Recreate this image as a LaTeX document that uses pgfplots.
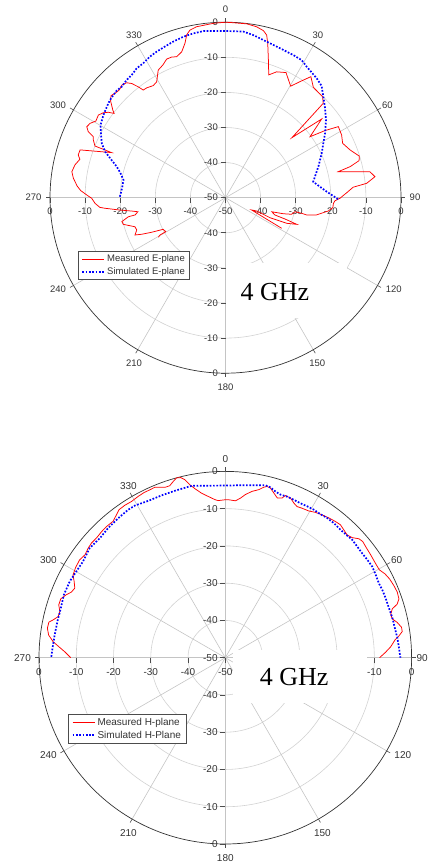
\documentclass[border=0pt]{standalone}
\usepackage{fontspec}
\setmainfont{Liberation Sans}
\newfontfamily\timesfont{Liberation Serif}
\usepackage{pgfplots}
\usepackage{pgfplotstable}
\pgfplotsset{compat=1.18}

\definecolor{circc}{HTML}{D2D2D2}
\definecolor{spokec}{HTML}{C4C4C4}
\definecolor{labc}{HTML}{333333}

\tikzset{
  circ/.style={draw=circc, line width=0.6pt},
  spoke/.style={draw=spokec, line width=0.6pt},
  outc/.style={draw=black!80, line width=0.7pt},
  tk/.style={draw=black!70, line width=0.6pt},
  lb/.style={text=labc, inner sep=0pt},
}

\pgfplotstableread{
ang db
239.5 -27.8
240.3 -28.5
240.4 -30.4
243.1 -30.1
244.9 -26.8
246.4 -24.0
247.6 -22.1
250.0 -23.1
252.2 -22.9
255.4 -19.9
257.0 -19.7
258.9 -21.8
259.2 -23.8
260.9 -24.7
261.9 -23.0
263.5 -19.3
265.0 -15.5
265.6 -14.1
267.5 -12.8
269.7 -11.9
271.1 -10.5
272.8 -8.7
274.5 -7.6
277.3 -6.3
279.6 -5.6
282.3 -6.1
284.8 -7.1
286.2 -6.3
288.2 -6.4
291.6 -15.1
291.6 -10.0
293.6 -8.9
294.8 -8.5
295.7 -6.6
297.1 -5.6
298.8 -6.0
300.6 -7.1
303.0 -6.8
304.8 -7.6
306.1 -8.7
307.1 -10.2
307.9 -9.3
310.1 -7.2
311.7 -6.3
313.4 -6.7
315.4 -6.9
317.4 -6.4
319.3 -6.8
320.6 -7.9
321.8 -9.8
322.6 -11.4
324.4 -11.5
327.2 -12.0
329.3 -11.6
332.2 -8.9
334.7 -8.2
337.0 -7.1
339.1 -7.1
340.9 -7.5
343.3 -6.6
345.3 -4.5
346.6 -2.3
348.0 -1.2
350.4 -0.6
356.0 -0.2
0.0 0.0
2.6 -0.1
7.0 -0.1
10.3 -0.5
12.8 -1.2
14.2 -2.2
15.3 -4.4
17.3 -8.9
19.4 -12.9
22.1 -11.3
25.8 -10.4
30.3 -13.2
32.7 -10.7
35.2 -7.8
38.5 -9.8
43.9 -10.1
46.0 -11.3
47.9 -24.5
50.7 -14.6
54.2 -20.3
56.0 -15.8
57.8 -12.0
61.6 -12.4
65.1 -13.2
69.0 -12.0
72.7 -10.1
74.5 -10.5
76.0 -13.4
77.0 -17.0
79.8 -8.2
82.0 -7.0
84.2 -9.6
85.3 -13.5
87.6 -15.4
90.3 -17.4
91.6 -18.8
93.0 -19.2
95.3 -19.3
97.4 -20.5
100.7 -23.6
102.0 -26.4
101.6 -27.8
101.4 -29.8
104.1 -30.6
105.5 -32.9
106.9 -36.2
109.3 -35.1
109.7 -32.0
110.5 -28.3
112.7 -31.1
114.2 -36.1
113.1 -40.3
115.2 -41.8
118.6 -31.8
}\measE

\pgfplotstableread{
ang db
270.5 -19.9
275.2 -20.4
279.8 -20.5
283.1 -19.3
285.9 -17.8
288.3 -15.8
290.9 -13.3
293.7 -11.5
296.7 -10.3
300.2 -8.8
304.1 -8.0
307.5 -7.4
310.2 -6.9
312.5 -6.7
314.5 -6.5
316.9 -6.7
320.0 -6.2
322.6 -6.0
325.5 -5.3
328.5 -5.1
331.8 -4.4
334.8 -4.0
338.2 -3.6
341.5 -3.1
345.3 -2.6
348.9 -2.3
352.7 -2.1
0.0 -2.5
6.1 -2.4
9.7 -3.0
13.5 -3.8
17.4 -4.4
21.4 -4.8
25.4 -5.0
29.0 -5.2
31.8 -6.1
34.6 -6.7
37.4 -7.2
40.7 -8.0
44.0 -9.9
47.5 -11.6
52.3 -13.8
57.1 -16.2
60.9 -18.1
65.2 -19.8
71.5 -22.1
79.7 -24.6
83.4 -22.9
86.6 -21.1
89.1 -19.3
90.8 -17.9
}\simE

\pgfplotstableread{
ang db
270.0 -8.5
272.1 -6.9
273.8 -5.2
275.3 -3.6
277.3 -2.2
279.4 -1.6
281.4 -1.7
282.4 -2.7
283.8 -3.8
285.6 -3.9
287.6 -3.1
289.7 -3.1
291.6 -4.1
293.1 -5.1
294.8 -5.5
296.7 -4.6
298.5 -3.5
301.0 -3.1
303.9 -2.9
306.2 -3.3
308.6 -2.9
310.6 -2.7
312.9 -2.8
315.6 -2.6
317.8 -2.5
320.5 -2.6
322.7 -1.8
324.3 -1.1
326.6 -1.0
329.0 -1.1
331.6 -0.8
333.9 -0.6
335.8 -0.6
337.5 -0.5
340.5 -1.5
342.1 -1.5
343.5 -0.7
344.8 0.0
346.1 -0.2
347.2 -1.0
348.4 -2.6
349.8 -3.9
351.8 -5.4
354.0 -6.5
356.3 -7.5
357.4 -7.8
0.0 -7.6
1.2 -7.6
3.7 -7.8
5.4 -7.0
7.0 -5.9
9.1 -4.8
11.3 -4.0
12.7 -3.1
13.7 -2.7
14.9 -2.9
16.4 -3.9
18.0 -4.9
19.6 -4.5
20.3 -3.6
22.2 -3.7
23.9 -4.6
25.4 -5.1
27.2 -4.9
29.6 -4.7
31.8 -4.1
34.1 -3.7
36.6 -3.3
38.9 -3.0
40.9 -2.8
42.8 -3.2
44.8 -3.6
46.6 -3.1
48.3 -2.0
49.8 -1.7
52.0 -2.0
54.7 -2.2
57.8 -2.4
60.3 -2.4
62.3 -1.6
64.4 -1.1
66.8 -0.8
69.1 -0.6
71.3 -0.8
72.7 -1.7
73.7 -3.3
75.3 -4.1
76.9 -4.0
78.4 -2.9
80.2 -2.0
81.6 -2.0
82.8 -3.0
84.0 -4.2
86.2 -5.5
88.1 -7.0
90.0 -8.6
}\measH

\pgfplotstableread{
ang db
270.3 -3.3
273.7 -3.6
277.6 -3.8
282.1 -3.9
286.7 -3.9
291.3 -3.5
296.1 -3.5
300.1 -3.8
304.0 -3.9
309.0 -3.2
313.6 -3.5
317.9 -3.1
322.5 -2.8
326.7 -2.5
329.3 -2.5
333.8 -3.1
338.6 -3.2
343.2 -3.2
347.2 -3.1
348.9 -3.0
354.3 -3.6
0.0 -3.8
5.5 -3.5
13.1 -2.5
14.8 -2.7
16.8 -3.4
18.7 -3.8
21.0 -3.7
23.4 -3.8
25.9 -3.9
28.4 -3.8
30.9 -3.7
33.5 -3.8
36.1 -3.6
38.9 -3.6
42.0 -3.8
44.9 -3.7
47.1 -3.5
49.9 -3.7
52.6 -3.8
55.4 -3.7
58.2 -3.6
61.1 -3.9
64.1 -4.2
66.6 -4.1
69.6 -4.1
73.2 -4.1
76.7 -3.9
80.2 -3.8
83.6 -3.5
86.9 -3.3
90.0 -3.0
}\simH

% #1 = label font, #2 = horizontal shift of the "90" label
\newcommand{\polarframe}[2]{%
  \pgfplotsinvokeforeach{10,20,30,40}{\draw[circ] (axis cs:0,0) circle[radius=##1];}
  \pgfplotsinvokeforeach{0,30,...,330}{\draw[spoke] (axis cs:0,0) -- (axis cs:{50*sin(##1)},{50*cos(##1)});}
  \draw[outc] (axis cs:0,0) circle[radius=50];
  \pgfplotsinvokeforeach{0,30,...,330}{\draw[tk] (axis cs:{50*sin(##1)},{50*cos(##1)}) -- ++({90-##1}:4pt);}
  \pgfplotsinvokeforeach{-50,-40,...,50}{\draw[tk] (axis cs:0,##1) -- ++(-5pt,0pt);}
  \pgfplotsinvokeforeach{-50,-40,...,50}{\draw[tk] (axis cs:##1,0) -- ++(0pt,-5pt);}
  % angle labels
  \node[lb,font={#1},yshift=12.5pt] at (axis cs:0,50) {0};
  \node[lb,font={#1},xshift=4.7pt,yshift=10.7pt] at (axis cs:25,43.30) {30};
  \node[lb,font={#1},xshift=10pt,yshift=4.7pt] at (axis cs:43.30,25) {60};
  \node[lb,font={#1},xshift=#2] at (axis cs:50,0) {90};
  \node[lb,font={#1},xshift=16.2pt,yshift=-3.8pt] at (axis cs:43.30,-25) {120};
  \node[lb,font={#1},xshift=4pt,yshift=-13.6pt] at (axis cs:25,-43.30) {150};
  \node[lb,font={#1},yshift=-14.5pt] at (axis cs:0,-50) {180};
  \node[lb,font={#1},xshift=-3.75pt,yshift=-13.6pt] at (axis cs:-25,-43.30) {210};
  \node[lb,font={#1},xshift=-15.5pt,yshift=-3.8pt] at (axis cs:-43.30,-25) {240};
  \node[lb,font={#1},xshift=-16.5pt] at (axis cs:-50,0) {270};
  \node[lb,font={#1},xshift=-15.5pt,yshift=4.7pt] at (axis cs:-43.30,25) {300};
  \node[lb,font={#1},xshift=-3.7pt,yshift=10.7pt] at (axis cs:-25,43.30) {330};
  % radial labels, vertical
  \node[lb,font={#1},anchor=east,xshift=-7.5pt] at (axis cs:0,50) {0};
  \node[lb,font={#1},anchor=east,xshift=-7.5pt] at (axis cs:0,40) {-10};
  \node[lb,font={#1},anchor=east,xshift=-7.5pt] at (axis cs:0,30) {-20};
  \node[lb,font={#1},anchor=east,xshift=-7.5pt] at (axis cs:0,20) {-30};
  \node[lb,font={#1},anchor=east,xshift=-7.5pt] at (axis cs:0,10) {-40};
  \node[lb,font={#1},anchor=east,xshift=-7.5pt] at (axis cs:0,0) {-50};
  \node[lb,font={#1},anchor=east,xshift=-7.5pt] at (axis cs:0,-10) {-40};
  \node[lb,font={#1},anchor=east,xshift=-7.5pt] at (axis cs:0,-20) {-30};
  \node[lb,font={#1},anchor=east,xshift=-7.5pt] at (axis cs:0,-30) {-20};
  \node[lb,font={#1},anchor=east,xshift=-7.5pt] at (axis cs:0,-40) {-10};
  \node[lb,font={#1},anchor=east,xshift=-7.5pt] at (axis cs:0,-50) {0};
  % radial labels, horizontal (outer ones)
  \node[lb,font={#1},yshift=-14pt] at (axis cs:-50,0) {0};
  \node[lb,font={#1},yshift=-14pt] at (axis cs:-40,0) {-10};
  \node[lb,font={#1},yshift=-14pt] at (axis cs:-30,0) {-20};
  \node[lb,font={#1},yshift=-14pt] at (axis cs:-20,0) {-30};
  \node[lb,font={#1},yshift=-14pt] at (axis cs:-10,0) {-40};
  \node[lb,font={#1},yshift=-14pt] at (axis cs:0,0) {-50};
  \node[lb,font={#1},yshift=-14pt] at (axis cs:40,0) {-10};
  \node[lb,font={#1},yshift=-14pt] at (axis cs:50,0) {0};
}

\pgfplotsset{
  polarbase/.style={
    scale only axis, anchor=center, hide axis, clip=false,
    xmin=-50, xmax=50, ymin=-50, ymax=50,
    legend cell align=left,
    legend image code/.code={\draw[##1] (0pt,0pt) -- (22pt,0pt);},
  },
  meas/.style={draw=red, line width=0.75pt, mark=none},
  simu/.style={draw=blue, line width=1.7pt, dash pattern=on 1.7pt off 1.6pt, mark=none},
}

\begin{document}
\begin{tikzpicture}
\useasboundingbox (0,0) rectangle (429pt,865pt);

\begin{axis}[polarbase,
  at={(225.5pt,667.3pt)}, width=351pt, height=351pt,
  legend style={at={(0.08,0.349)}, anchor=north west, draw=black!70, line width=0.8pt,
    fill=white, font=\fontsize{9.5}{11}\selectfont, text=labc,
    inner xsep=3pt, inner ysep=2pt, row sep=0pt},
]
\polarframe{\fontsize{9.5}{11}\selectfont}{14pt}
\node[lb,font=\fontsize{9.5}{11}\selectfont,yshift=-14pt] at (axis cs:10,0) {-40};
\node[lb,font=\fontsize{9.5}{11}\selectfont,yshift=-14pt] at (axis cs:20,0) {-30};
\node[lb,font=\fontsize{9.5}{11}\selectfont,yshift=-14pt] at (axis cs:30,0) {-20};
\fill[white] (axis cs:0.1,-18.6) rectangle (axis cs:34.6,-34.3);
\node[font=\timesfont\fontsize{26}{28}\selectfont, inner sep=0pt] at (axis cs:14.1,-26.9) {4 GHz};
\addplot[meas] table[x expr={(\thisrow{db}+50)*sin(\thisrow{ang})}, y expr={(\thisrow{db}+50)*cos(\thisrow{ang})}] {\measE};
\addplot[simu] table[x expr={(\thisrow{db}+50)*sin(\thisrow{ang})}, y expr={(\thisrow{db}+50)*cos(\thisrow{ang})}] {\simE};
\legend{Measured E-plane, Simulated E-plane}
\end{axis}

\begin{axis}[polarbase,
  at={(225.3pt,207.3pt)}, width=372.6pt, height=372.6pt,
  legend style={at={(0.079,0.3495)}, anchor=north west, draw=black!70, line width=0.8pt,
    fill=white, font=\fontsize{10}{12}\selectfont, text=labc,
    inner xsep=3pt, inner ysep=2pt, row sep=0pt},
]
\polarframe{\fontsize{10}{12}\selectfont}{10.5pt}
\fill[white] (axis cs:2.1,2.1) rectangle (axis cs:38.1,-12.2);
\node[font=\timesfont\fontsize{26}{28}\selectfont, inner sep=0pt] at (axis cs:18.5,-5.2) {4 GHz};
\addplot[meas] table[x expr={(\thisrow{db}+50)*sin(\thisrow{ang})}, y expr={(\thisrow{db}+50)*cos(\thisrow{ang})}] {\measH};
\addplot[simu] table[x expr={(\thisrow{db}+50)*sin(\thisrow{ang})}, y expr={(\thisrow{db}+50)*cos(\thisrow{ang})}] {\simH};
\legend{Measured H-plane, Simulated H-Plane}
\end{axis}
\end{tikzpicture}
\end{document}
